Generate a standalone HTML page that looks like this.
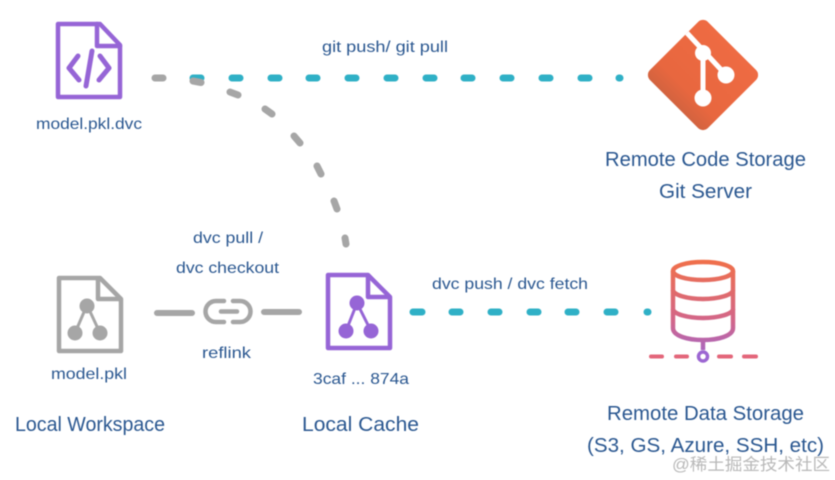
<!DOCTYPE html>
<html><head><meta charset="utf-8"><style>
html,body{margin:0;padding:0;background:#fff;width:835px;height:480px;overflow:hidden}
svg{display:block;filter:blur(.5px)}
text{font-family:"Liberation Sans","Noto Sans CJK SC",sans-serif;fill:#2a5790}
</style></head><body>
<svg width="835" height="480" viewBox="0 0 835 480" xmlns="http://www.w3.org/2000/svg">
<defs>
<linearGradient id="g" gradientUnits="userSpaceOnUse" x1="0" y1="20" x2="0" y2="130"><stop offset="0" stop-color="#f06c44"/><stop offset=".7" stop-color="#e8673f"/><stop offset="1" stop-color="#c2603f"/></linearGradient>
<linearGradient id="d" gradientUnits="userSpaceOnUse" x1="0" y1="260" x2="0" y2="362"><stop offset="0" stop-color="#f0704a"/><stop offset=".6" stop-color="#d2668a"/><stop offset="1" stop-color="#9c66d2"/></linearGradient>
</defs>
<!-- teal top -->
<g stroke="#2fb0c6" stroke-width="7" stroke-linecap="round" fill="none">
<path d="M193 78h8M232 78h8M271 78h8M309 78h8M348 78h8M387 78h8M426 78h8M464 78h8M503 78h8M542 78h8M581 78h8M619 78h1"/>
<path d="M413 312h9M452 312h8M491 312h8M530 312h8M568 312h8M607 312h8M647 312h1"/>
</g>
<!-- gray dashes -->
<g stroke="#a6a6a6" stroke-width="7" stroke-linecap="round" fill="none">
<path d="M155 78h8M193 81l8 1.500M230 92l8 3M265 109l7 5M294 136l6 7M317 166l4 8M334 201l3 8M345 238l1 6"/>
<path d="M157 313h35M264 312h35" stroke-width="6"/>
</g>
<!-- code doc -->
<g fill="none" stroke="#9665d6" stroke-width="4.500" stroke-linejoin="round" stroke-linecap="round">
<path d="M58 24H100L120 45V97H58V24Z"/>
<path d="M97 24V46H120"/>
<path d="M78 56L69 68L79 80M100 56L109 68L99 80" stroke-width="5"/>
<path d="M92 51L86 86" stroke-width="5"/>
</g>
<!-- gray doc -->
<g fill="none" stroke="#a6a6a6" stroke-width="4.500" stroke-linejoin="round">
<path d="M59 278H100L121 299V351H59V278Z"/>
<path d="M98 278V299H121"/>
<path d="M87 305L75 333M87 305L100 333" stroke-width="3"/>
</g>
<g fill="#a6a6a6"><circle cx="87" cy="306" r="7.500"/><circle cx="75" cy="333" r="7.500"/><circle cx="100" cy="333" r="7.500"/></g>
<!-- link -->
<g fill="none" stroke="#a6a6a6" stroke-width="4.500" stroke-linecap="round">
<path d="M224 301H216A10.500 10.500 0 0 0 216 322H224"/>
<path d="M233 301H240A10.500 10.500 0 0 1 240 322H233"/>
<path d="M221 311.500H237"/>
</g>
<!-- purple doc -->
<g fill="none" stroke="#9665d6" stroke-width="4.500" stroke-linejoin="round">
<path d="M328 275H368L390 297V348H328V275Z"/>
<path d="M368 275V297H390"/>
<path d="M357 303L346 331M357 303L371 331" stroke-width="3"/>
</g>
<g fill="#9665d6"><circle cx="357" cy="303" r="7.500"/><circle cx="346" cy="331" r="7.500"/><circle cx="371" cy="331" r="7.500"/></g>
<!-- git diamond -->
<rect x="662" y="34" width="82" height="82" rx="7" transform="rotate(45 703 75)" fill="url(#g)"/>
<g stroke="#fff" stroke-width="5" fill="none"><path d="M687 33L726 75"/><path d="M703 53V98"/></g>
<g fill="#fff"><circle cx="703" cy="53" r="8"/><circle cx="726" cy="75" r="8.500"/><circle cx="703" cy="98" r="8.500"/></g>
<!-- database -->
<g fill="none" stroke="url(#d)" stroke-width="4.500">
<ellipse cx="703" cy="271" rx="30" ry="9"/>
<path d="M673 271V328C673 336 688 340 703 340C718 340 733 336 733 328V271"/>
<path d="M673 290C673 295 688 299 703 299C718 299 733 295 733 290"/>
<path d="M673 309C673 314 688 318 703 318C718 318 733 314 733 309"/>
<path d="M703 341V350"/>
</g>
<g stroke="#e3667a" stroke-width="4" stroke-linecap="round"><path d="M651 356.500H662M676 356.500H687M719 356.500H731M744 356.500H756"/></g>
<circle cx="703" cy="356.500" r="4.500" fill="#fff" stroke="#9c66d2" stroke-width="3.500"/>
<!-- labels -->
<g font-size="16">
<text x="36" y="129" textLength="106" lengthAdjust="spacingAndGlyphs">model.pkl.dvc</text>
<text x="322" y="52" textLength="126" lengthAdjust="spacingAndGlyphs">git push/ git pull</text>
<text x="193" y="243" textLength="70" lengthAdjust="spacingAndGlyphs">dvc pull /</text>
<text x="176" y="273" textLength="103" lengthAdjust="spacingAndGlyphs">dvc checkout</text>
<text x="202" y="358" textLength="49" lengthAdjust="spacingAndGlyphs">reflink</text>
<text x="51" y="379" textLength="76" lengthAdjust="spacingAndGlyphs">model.pkl</text>
<text x="313" y="384" textLength="96" lengthAdjust="spacingAndGlyphs">3caf ... 874a</text>
<text x="432" y="289" textLength="156" lengthAdjust="spacingAndGlyphs">dvc push / dvc fetch</text>
</g>
<g font-size="20">
<text x="15" y="431" textLength="150" lengthAdjust="spacingAndGlyphs">Local Workspace</text>
<text x="302" y="431" textLength="117" lengthAdjust="spacingAndGlyphs">Local Cache</text>
<text x="605" y="166" textLength="201" lengthAdjust="spacingAndGlyphs">Remote Code Storage</text>
<text x="659" y="198" textLength="93" lengthAdjust="spacingAndGlyphs">Git Server</text>
<text x="607" y="420" textLength="197" lengthAdjust="spacingAndGlyphs">Remote Data Storage</text>
<text x="587" y="452" textLength="237" lengthAdjust="spacingAndGlyphs">(S3, GS, Azure, SSH, etc)</text>
</g>
<text x="672" y="470" font-size="16.500" textLength="158" lengthAdjust="spacingAndGlyphs" style="fill:#b8b8b8">@稀土掘金技术社区</text>
</svg>
</body></html>
